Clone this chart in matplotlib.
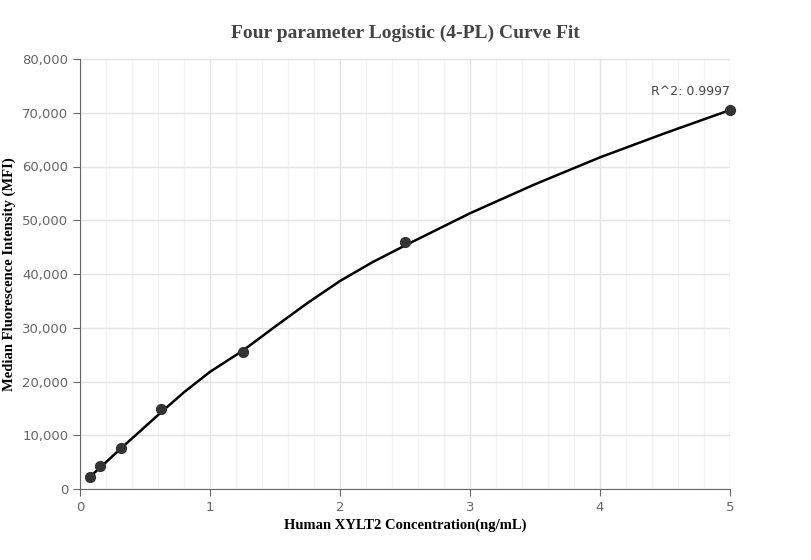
import matplotlib.pyplot as plt
from matplotlib.ticker import FuncFormatter, MultipleLocator

# measured standards
conc = [0.078, 0.156, 0.3125, 0.625, 1.25, 2.5, 5.0]
mfi = [2300, 4200, 7700, 14800, 25500, 46000, 70500]

# fitted curve
curve_x = [0.078, 0.156, 0.3125, 0.625, 0.8, 1.0, 1.25, 1.5, 1.75, 2.0, 2.25, 2.5, 3.0, 3.5, 4.0, 4.5, 5.0]
curve_y = [2300, 4000, 7500, 14300, 18000, 21800, 25700, 30200, 34600, 38700, 42200, 45300, 51300, 56700, 61700, 66200, 70500]

fig = plt.figure(figsize=(8.11, 5.6), dpi=100)
ax = fig.add_axes([80 / 811, 1 - 489 / 560, 650 / 811, 430 / 560])

ax.plot(curve_x, curve_y, color="black", lw=1.8, zorder=3)
ax.scatter(conc, mfi, s=50, color="#333333", zorder=4, clip_on=False)
ax.annotate("R^2: 0.9997", (conc[-1], mfi[-1]), xytext=(0, 9), textcoords="offset points",
            ha="right", va="bottom", fontsize=9, color="#444444")

ax.set_xlim(0, 5)
ax.set_ylim(0, 80000)
ax.xaxis.set_major_locator(MultipleLocator(1))
ax.xaxis.set_minor_locator(MultipleLocator(0.2))
ax.yaxis.set_major_locator(MultipleLocator(10000))
ax.yaxis.set_major_formatter(FuncFormatter(lambda v, p: f"{int(v):,}"))
ax.grid(which="major", color="#e3e3e3", lw=1)
ax.grid(which="minor", axis="x", color="#f2f2f2", lw=1)
ax.set_axisbelow(True)
for s in ["top", "right"]:
    ax.spines[s].set_visible(False)
ax.spines["left"].set_color("#666666")
ax.spines["bottom"].set_color("#666666")
ax.tick_params(which="minor", length=0)
ax.tick_params(colors="#666666", labelsize=9.5, length=5)

serif = "Liberation Serif"
fig.text(405 / 811, 1 - 525 / 560, "Human XYLT2 Concentration(ng/mL)", ha="center", va="center",
         fontfamily=serif, fontweight="bold", fontsize=10.5)
fig.text(9 / 811, 1 - 274 / 560, "Median Fluorescence Intensity (MFI)", ha="center", va="center",
         rotation=90, fontfamily=serif, fontweight="bold", fontsize=10.5)
fig.text(405 / 811, 1 - 33 / 560, "Four parameter Logistic (4-PL) Curve Fit", ha="center", va="center",
         fontfamily=serif, fontweight="bold", fontsize=14, color="#444444")

fig.savefig("out.png", dpi=100)
